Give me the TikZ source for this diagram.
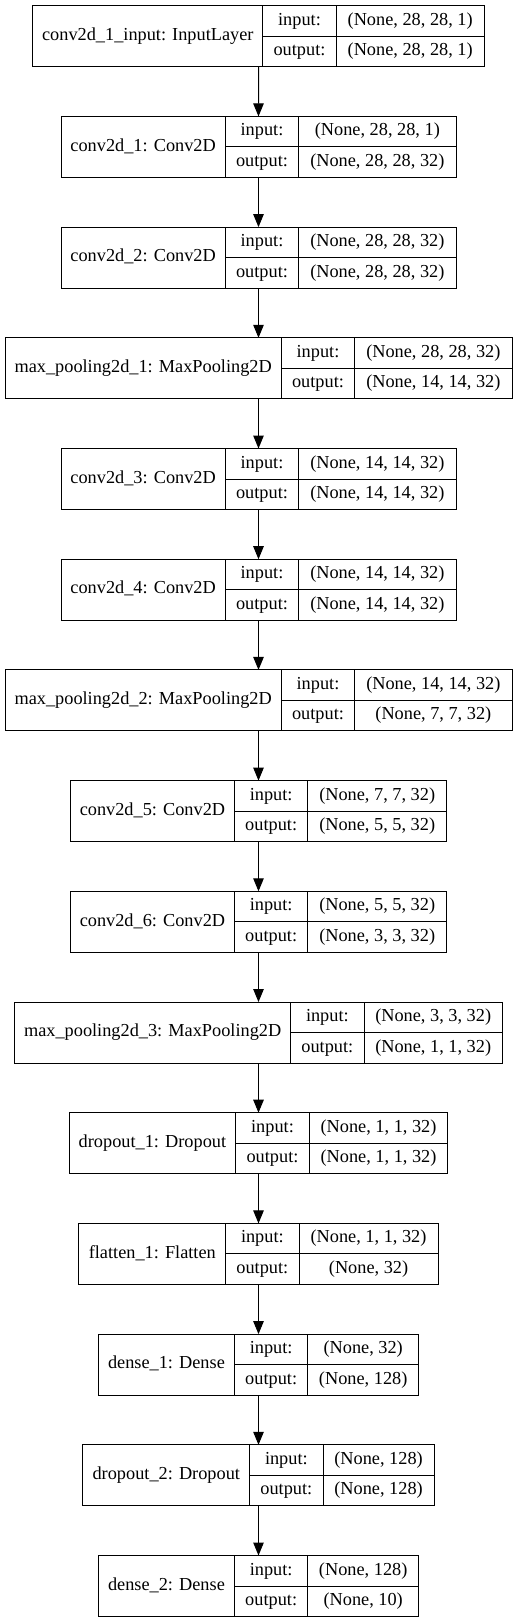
\documentclass[tikz,border=0pt]{standalone}
\usepackage{fontspec}
\setmainfont{Liberation Serif}
\usetikzlibrary{arrows.meta,fit}

\begin{document}
\begin{tikzpicture}[x=1pt, y=-1pt,
        every node/.style={font=\fontsize{18.3}{22}\selectfont, line width=1pt, outer sep=0pt},
        cell/.style={draw, rectangle, anchor=north west, inner sep=0pt, minimum height=30.5pt,
        text height=13pt, text depth=4.5pt},
        layer/.style={cell, minimum height=61pt},
        port/.style={cell, minimum width=73.4pt},
        record/.style={rectangle, inner sep=0pt},
        flow/.style={-{Triangle[length=13pt,width=10.5pt]}, line width=1pt}]
        \useasboundingbox (0,0) rectangle (517,1623);

        \node (input) [layer, minimum width=230pt] at (32.8,5.7) {conv2d\_1\_input: InputLayer};
        \node (input-in) [port] at (input.north east) {input:};
        \node (input-out) [port] at (input-in.south west) {output:};
        \node (input-ishape) [cell, minimum width=148pt] at (input-in.north east) {(None, 28, 28, 1)};
        \node (input-oshape) [cell, minimum width=148pt] at (input-ishape.south west) {(None, 28, 28, 1)};

        \node (conv1) [layer, minimum width=164.3pt] at (61,116.4) {conv2d\_1: Conv2D};
        \node (conv1-in) [port] at (conv1.north east) {input:};
        \node (conv1-out) [port] at (conv1-in.south west) {output:};
        \node (conv1-ishape) [cell, minimum width=157.3pt] at (conv1-in.north east) {(None, 28, 28, 1)};
        \node (conv1-oshape) [cell, minimum width=157.3pt] at (conv1-ishape.south west) {(None, 28, 28, 32)};

        \node (conv2) [layer, minimum width=164.3pt] at (61,227.1) {conv2d\_2: Conv2D};
        \node (conv2-in) [port] at (conv2.north east) {input:};
        \node (conv2-out) [port] at (conv2-in.south west) {output:};
        \node (conv2-ishape) [cell, minimum width=157.3pt] at (conv2-in.north east) {(None, 28, 28, 32)};
        \node (conv2-oshape) [cell, minimum width=157.3pt] at (conv2-ishape.south west) {(None, 28, 28, 32)};

        \node (pool1) [layer, minimum width=276.3pt] at (5,337.8) {max\_pooling2d\_1: MaxPooling2D};
        \node (pool1-in) [port] at (pool1.north east) {input:};
        \node (pool1-out) [port] at (pool1-in.south west) {output:};
        \node (pool1-ishape) [cell, minimum width=157.3pt] at (pool1-in.north east) {(None, 28, 28, 32)};
        \node (pool1-oshape) [cell, minimum width=157.3pt] at (pool1-ishape.south west) {(None, 14, 14, 32)};

        \node (conv3) [layer, minimum width=164.3pt] at (61,448.5) {conv2d\_3: Conv2D};
        \node (conv3-in) [port] at (conv3.north east) {input:};
        \node (conv3-out) [port] at (conv3-in.south west) {output:};
        \node (conv3-ishape) [cell, minimum width=157.3pt] at (conv3-in.north east) {(None, 14, 14, 32)};
        \node (conv3-oshape) [cell, minimum width=157.3pt] at (conv3-ishape.south west) {(None, 14, 14, 32)};

        \node (conv4) [layer, minimum width=164.3pt] at (61,559.2) {conv2d\_4: Conv2D};
        \node (conv4-in) [port] at (conv4.north east) {input:};
        \node (conv4-out) [port] at (conv4-in.south west) {output:};
        \node (conv4-ishape) [cell, minimum width=157.3pt] at (conv4-in.north east) {(None, 14, 14, 32)};
        \node (conv4-oshape) [cell, minimum width=157.3pt] at (conv4-ishape.south west) {(None, 14, 14, 32)};

        \node (pool2) [layer, minimum width=276.3pt] at (5,669.9) {max\_pooling2d\_2: MaxPooling2D};
        \node (pool2-in) [port] at (pool2.north east) {input:};
        \node (pool2-out) [port] at (pool2-in.south west) {output:};
        \node (pool2-ishape) [cell, minimum width=157.3pt] at (pool2-in.north east) {(None, 14, 14, 32)};
        \node (pool2-oshape) [cell, minimum width=157.3pt] at (pool2-ishape.south west) {(None, 7, 7, 32)};

        \node (conv5) [layer, minimum width=164pt] at (70.45,780.6) {conv2d\_5: Conv2D};
        \node (conv5-in) [port] at (conv5.north east) {input:};
        \node (conv5-out) [port] at (conv5-in.south west) {output:};
        \node (conv5-ishape) [cell, minimum width=138.7pt] at (conv5-in.north east) {(None, 7, 7, 32)};
        \node (conv5-oshape) [cell, minimum width=138.7pt] at (conv5-ishape.south west) {(None, 5, 5, 32)};

        \node (conv6) [layer, minimum width=164pt] at (70.45,891.3) {conv2d\_6: Conv2D};
        \node (conv6-in) [port] at (conv6.north east) {input:};
        \node (conv6-out) [port] at (conv6-in.south west) {output:};
        \node (conv6-ishape) [cell, minimum width=138.7pt] at (conv6-in.north east) {(None, 5, 5, 32)};
        \node (conv6-oshape) [cell, minimum width=138.7pt] at (conv6-ishape.south west) {(None, 3, 3, 32)};

        \node (pool3) [layer, minimum width=276pt] at (14.65,1002) {max\_pooling2d\_3: MaxPooling2D};
        \node (pool3-in) [port] at (pool3.north east) {input:};
        \node (pool3-out) [port] at (pool3-in.south west) {output:};
        \node (pool3-ishape) [cell, minimum width=138.3pt] at (pool3-in.north east) {(None, 3, 3, 32)};
        \node (pool3-oshape) [cell, minimum width=138.3pt] at (pool3-ishape.south west) {(None, 1, 1, 32)};

        \node (drop1) [layer, minimum width=166.7pt] at (69.1,1112.7) {dropout\_1: Dropout};
        \node (drop1-in) [port] at (drop1.north east) {input:};
        \node (drop1-out) [port] at (drop1-in.south west) {output:};
        \node (drop1-ishape) [cell, minimum width=138.7pt] at (drop1-in.north east) {(None, 1, 1, 32)};
        \node (drop1-oshape) [cell, minimum width=138.7pt] at (drop1-ishape.south west) {(None, 1, 1, 32)};

        \node (flat1) [layer, minimum width=146.7pt] at (78.95,1223.4) {flatten\_1: Flatten};
        \node (flat1-in) [port] at (flat1.north east) {input:};
        \node (flat1-out) [port] at (flat1-in.south west) {output:};
        \node (flat1-ishape) [cell, minimum width=139pt] at (flat1-in.north east) {(None, 1, 1, 32)};
        \node (flat1-oshape) [cell, minimum width=139pt] at (flat1-ishape.south west) {(None, 32)};

        \node (dense1) [layer, minimum width=136pt] at (98.45,1334.1) {dense\_1: Dense};
        \node (dense1-in) [port] at (dense1.north east) {input:};
        \node (dense1-out) [port] at (dense1-in.south west) {output:};
        \node (dense1-ishape) [cell, minimum width=110.7pt] at (dense1-in.north east) {(None, 32)};
        \node (dense1-oshape) [cell, minimum width=110.7pt] at (dense1-ishape.south west) {(None, 128)};

        \node (drop2) [layer, minimum width=166.7pt] at (82.95,1444.8) {dropout\_2: Dropout};
        \node (drop2-in) [port] at (drop2.north east) {input:};
        \node (drop2-out) [port] at (drop2-in.south west) {output:};
        \node (drop2-ishape) [cell, minimum width=111pt] at (drop2-in.north east) {(None, 128)};
        \node (drop2-oshape) [cell, minimum width=111pt] at (drop2-ishape.south west) {(None, 128)};

        \node (dense2) [layer, minimum width=136pt] at (98.45,1555.5) {dense\_2: Dense};
        \node (dense2-in) [port] at (dense2.north east) {input:};
        \node (dense2-out) [port] at (dense2-in.south west) {output:};
        \node (dense2-ishape) [cell, minimum width=110.7pt] at (dense2-in.north east) {(None, 128)};
        \node (dense2-oshape) [cell, minimum width=110.7pt] at (dense2-ishape.south west) {(None, 10)};

        % whole records, for the arrows
        \node (inputR) [record, fit=(input)(input-oshape)] {};
        \node (conv1R) [record, fit=(conv1)(conv1-oshape)] {};
        \node (conv2R) [record, fit=(conv2)(conv2-oshape)] {};
        \node (pool1R) [record, fit=(pool1)(pool1-oshape)] {};
        \node (conv3R) [record, fit=(conv3)(conv3-oshape)] {};
        \node (conv4R) [record, fit=(conv4)(conv4-oshape)] {};
        \node (pool2R) [record, fit=(pool2)(pool2-oshape)] {};
        \node (conv5R) [record, fit=(conv5)(conv5-oshape)] {};
        \node (conv6R) [record, fit=(conv6)(conv6-oshape)] {};
        \node (pool3R) [record, fit=(pool3)(pool3-oshape)] {};
        \node (drop1R) [record, fit=(drop1)(drop1-oshape)] {};
        \node (flat1R) [record, fit=(flat1)(flat1-oshape)] {};
        \node (dense1R) [record, fit=(dense1)(dense1-oshape)] {};
        \node (drop2R) [record, fit=(drop2)(drop2-oshape)] {};
        \node (dense2R) [record, fit=(dense2)(dense2-oshape)] {};

        \draw[flow] (inputR) -- (conv1R);
        \draw[flow] (conv1R) -- (conv2R);
        \draw[flow] (conv2R) -- (pool1R);
        \draw[flow] (pool1R) -- (conv3R);
        \draw[flow] (conv3R) -- (conv4R);
        \draw[flow] (conv4R) -- (pool2R);
        \draw[flow] (pool2R) -- (conv5R);
        \draw[flow] (conv5R) -- (conv6R);
        \draw[flow] (conv6R) -- (pool3R);
        \draw[flow] (pool3R) -- (drop1R);
        \draw[flow] (drop1R) -- (flat1R);
        \draw[flow] (flat1R) -- (dense1R);
        \draw[flow] (dense1R) -- (drop2R);
        \draw[flow] (drop2R) -- (dense2R);
    \end{tikzpicture}
\end{document}
